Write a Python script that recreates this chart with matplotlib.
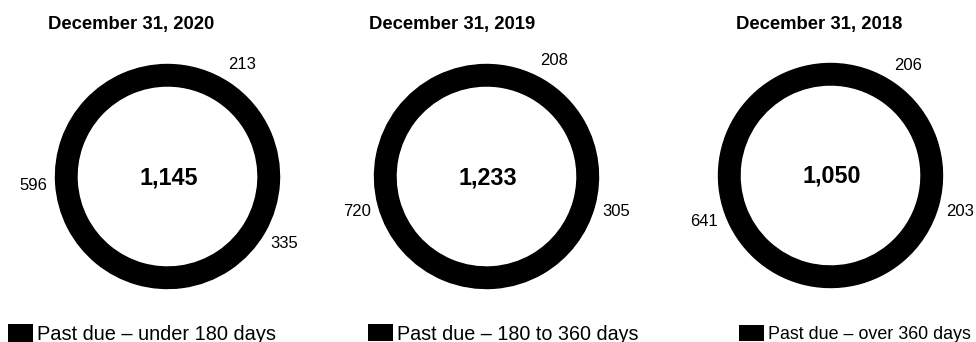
import matplotlib
matplotlib.use("Agg")
import matplotlib.pyplot as plt
import numpy as np
from matplotlib.patches import Patch

plt.rcParams['font.family'] = ['Liberation Sans', 'DejaVu Sans']

dates = ["December 31, 2020", "December 31, 2019", "December 31, 2018"]
under_180 = [213, 208, 206]
days_180_360 = [335, 305, 203]
over_360 = [596, 720, 641]
totals = ["1,145", "1,233", "1,050"]
legend_labels = ["Past due \u2013 under 180 days",
                 "Past due \u2013 180 to 360 days",
                 "Past due \u2013 over 360 days"]

W, H = 976, 342
fig = plt.figure(figsize=(W / 100, H / 100), dpi=100)
# one axes in pixel units, y measured from the bottom
ax = fig.add_axes([0, 0, 1, 1])

centers = [(167.5, 176.5), (486.5, 176.5), (830.5, 175.5)]
title_x = [131.5, 452, 819]
legend_x = [8, 368, 739]
legend_size = [14.4, 14.2, 12.9]  # last one has to fit before the right edge
R = 112

for i in range(3):
    cx, cy = centers[i]
    vals = [under_180[i], days_180_360[i], over_360[i]]
    # black edges hide the seams between the wedges
    wedges, _ = ax.pie(vals, center=(cx, H - cy), radius=R, startangle=90,
                       counterclock=False, colors=['black'] * 3,
                       wedgeprops=dict(width=21.5, linewidth=1,
                                       edgecolor='black'))
    for w, v in zip(wedges, vals):
        ang = np.deg2rad((w.theta1 + w.theta2) / 2)
        ax.text(cx + 1.2 * R * np.cos(ang), H - cy + 1.2 * R * np.sin(ang),
                str(v), ha='center', va='center', fontsize=12)
    ax.text(cx + 1, H - cy - 7.5, totals[i], ha='center', va='baseline',
            fontsize=16.8, fontweight='bold')
    ax.text(title_x[i], H - 29.5, dates[i], ha='center', va='baseline',
            fontsize=13.3, fontweight='bold')
    fig.legend(handles=[Patch(facecolor='black', edgecolor='none')],
               labels=[legend_labels[i]], loc='center left',
               bbox_to_anchor=(legend_x[i] / W, (H - 334) / H),
               frameon=False, fontsize=legend_size[i], borderpad=0,
               borderaxespad=0, handlelength=25 / (legend_size[i] * 1.389),
               handleheight=0.95, handletextpad=4.5 / (legend_size[i] * 1.389))

ax.set_xlim(0, W)
ax.set_ylim(0, H)
ax.set_aspect('equal')
ax.axis('off')

fig.savefig("out.png", dpi=100)
